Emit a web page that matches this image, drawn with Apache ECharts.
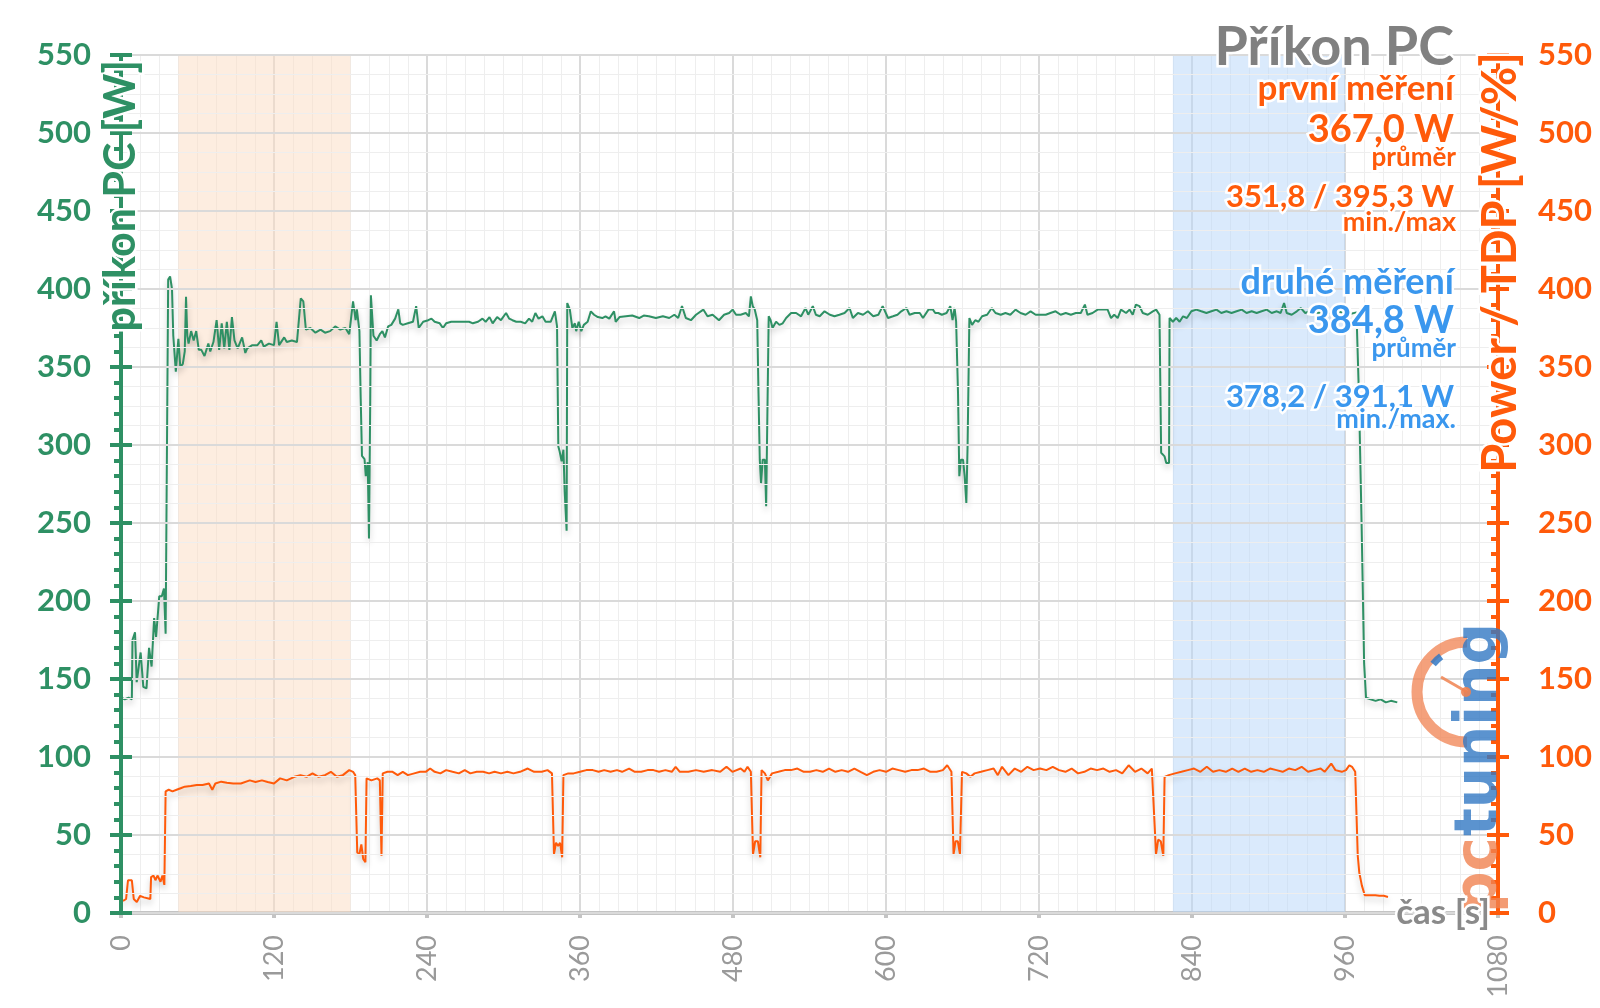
<!DOCTYPE html>
<html><head><meta charset="utf-8">
<script src="https://cdn.jsdelivr.net/npm/echarts@6/dist/echarts.min.js"></script>
<style>html,body{margin:0;padding:0;background:#fff}#c{width:1600px;height:1008px}</style>
</head><body><div id="c"></div>
<script>
// ---- data: [time s, value] ----
const pcPower = [[0,138],[3,137],[6,138],[8.5,137],[9,175],[11,180],[12.3,148],[15.4,167],[17.5,145],[20,144],[22,170],[24,158],[26,189],[27.5,177],[30,203],[32,203],[33.7,208],[35,179],[36,180],[37,406],[38.5,408],[40,400],[41,370],[43,347],[45,368],[46.5,350],[48.5,352],[50,360],[51,395],[52,370],[53,365],[55,373],[57,367],[59,373],[61,361],[63,361],[65.5,357],[68.5,365],[70,360],[72.5,366],[75,380],[77,361],[79,378],[81,362],[83,379],[85,361],[87,382],[89,367],[91.5,362],[95,369],[97.5,359],[99,362],[103,364],[107,364],[110,367],[112,363],[116,365],[120,364],[122,379],[124,364],[128,369],[130,366],[134,367],[138,366],[141,394],[143,392],[145,374],[148.5,375],[152.5,372],[156.5,374],[160,372],[164,373],[168,376],[172,374],[176,375],[179,371],[182,392],[184,380],[185,387],[187,373],[188,330],[189,293],[191,291],[192,280],[193.5,289],[194.5,240],[195.5,330],[196,396],[198,370],[200.5,367],[203,371],[205,373],[207,369],[209.5,376],[212,377],[215,381],[217.5,387],[219,378],[221,377],[225,378],[229,379],[231.5,389],[233.5,375],[237,379],[241,380],[243.5,381],[246,379],[250,378],[252.5,375],[255,378],[259,379],[263,379],[268,379],[273,379],[276,378],[280,379],[283.5,381],[286,379],[289,382],[291.5,378],[295,382],[298,380],[302,384.6],[304.5,381],[307,380],[310,379],[313.5,379],[317,378],[320,381],[322.5,379],[325,384.6],[327.5,381],[330.5,382.5],[333,379],[337,379],[340.3,385.7],[342,376],[343,299],[344,296],[345.6,289.5],[347,297],[348,270],[349.5,245],[350,391],[352,387],[354,375],[356,378],[357,373],[359,379],[361,373],[363,377],[366,379],[368.5,385.7],[371,383.5],[374,382],[377.5,381.4],[380,382.5],[383,381],[386.7,385.7],[388,379],[391,382],[396,382.5],[401,383],[406.4,381.4],[410,383],[414,382.5],[419.5,381.4],[425,382.5],[430,381.4],[434,383.5],[437,381.4],[440,389],[443,381.4],[447,380],[451,383.5],[456.7,386.8],[460,382.5],[464,383.5],[469,380],[473,383.5],[477,384.6],[479.7,386.8],[482.4,383.5],[486,383.5],[490,384.6],[492.5,382.5],[494,395.3],[495.5,389],[497,387],[499,380],[500,333],[501,290.6],[502,275.6],[503.3,290.6],[505,290.6],[506,260.7],[507.2,259.6],[508,382.5],[509.5,380],[511,375],[513.8,379],[516.4,377],[519,378],[521.7,381.4],[525.6,384.6],[529.5,384.6],[533.4,382.5],[536.9,387.8],[539,383.5],[542.6,389],[545,383.5],[548,382.5],[551.8,385.7],[556,383.5],[559.6,382.5],[563.5,383.5],[567.5,384.6],[571.4,387.8],[574,381.4],[578,384.6],[582,383.5],[585.8,385.7],[590,382.5],[594,383.5],[597.4,389],[601.6,381.4],[605.5,382.5],[609,383.5],[612,385.7],[616,387.8],[618.5,383.5],[622.5,384.6],[626.5,384.6],[629,381.4],[633.3,386.8],[636.8,386.8],[638.6,384.6],[641,384.6],[643.8,383.5],[647.5,384.6],[650.4,389],[652.2,380],[653.8,387.8],[655,379],[656.5,333],[657.5,280],[658.8,290.6],[660.4,290.6],[661.7,280],[663,262.8],[664,300],[665.4,381.4],[667.5,377],[670,380],[672.5,379],[675.4,382.5],[679.3,383.5],[683,387.8],[685.9,384.6],[690,383.5],[693.7,384.6],[697.5,383.5],[701.6,386.8],[705.5,384.6],[709.5,383.5],[713.4,385.7],[717.4,383.5],[721.5,383.5],[725.3,383.5],[729,384.6],[733,385.7],[737,383.5],[741,384.6],[745,383.5],[748.9,384.6],[752.8,384.6],[756,390],[758,383.5],[762,384.6],[766,386.8],[770,386.8],[773.8,386.8],[776.5,381.4],[779,383.5],[781.7,381.4],[784.3,386.8],[788.3,384.6],[791,386.8],[793.5,383.5],[796,390],[798.8,389],[801.4,384.6],[805.3,383.5],[809.3,385.7],[811.9,386.8],[814.5,383.5],[815.8,295],[818.5,292.7],[819.8,288.4],[822,288.4],[822.4,381.4],[825,379],[827.6,381.4],[830.3,379],[833,382.5],[836,381.4],[839.5,385.7],[843.4,386.8],[847.3,385.7],[851.3,384.6],[855.2,385.7],[859.2,386.8],[863,384.6],[867,385.7],[871,384.6],[875,385.7],[879,386.8],[882.8,384.6],[886.8,385.7],[890.7,384.6],[894.6,385.7],[898.6,386.8],[902.5,384.6],[906.5,385.7],[909.5,384.6],[912.2,391],[914.3,384.6],[918.2,383.5],[922.2,385.7],[925.4,387.8],[928.8,384.6],[931.5,385.7],[934,384.6],[940,385],[946,384],[952,386],[958,385],[964,384],[969,385],[971,330],[973,250],[975,160],[976.5,138],[980,137],[984,136],[988,137],[992,135],[996,136],[1001,135]];

const tdpPower = [[0,8],[2.2,8],[4,9],[5.5,21],[7,22],[8.5,21],[10,9],[12.4,7],[15,11],[18,10],[23,9],[23.6,23],[25.5,24],[27,21],[28.6,24],[31,20],[32.5,24],[34,18],[35,78],[37.4,79],[40.4,78],[43.6,79],[46.8,80],[50,81],[54.7,81.4],[59.5,82],[64,82],[69,83],[71.6,79],[74,83],[78.6,84.2],[83,83.5],[88,83],[94,83],[101,85],[105.5,84],[110.5,85],[115,84],[120,83],[124.8,86.3],[130,85],[136,87.3],[140.7,88.4],[145.5,87.3],[150.2,89.5],[155,87.3],[160,88.4],[164.6,90.5],[169.3,87.3],[174,88.4],[179,91.6],[182,90.5],[183.7,88.4],[185.3,38.8],[187,37.8],[188.5,44],[190,34.6],[191.7,32.5],[192.6,86.3],[196.4,85],[201,86.3],[203,85],[204.3,36.7],[205.3,89.5],[209,90.5],[213,90.5],[217,88.4],[221,90.5],[225,88.4],[230,89.5],[234.6,90.5],[239,90.5],[242.5,92.6],[246,90.5],[250.5,89.5],[255,91.6],[260,90.5],[265,89.5],[269.6,91.6],[274,89.5],[279,90.5],[284,90.5],[288.7,89.5],[293,90.5],[298,89.5],[303,90.5],[307.8,89.5],[313,90.5],[319,92.6],[324,90.5],[330,90.5],[334.5,91.6],[338,89.5],[339.6,37.8],[341.2,45],[342.8,43],[344.4,45],[346,35.7],[347,88.4],[350.8,89.5],[355,89.5],[360,90.5],[365,91.6],[370,91.6],[374.6,90.5],[379,91.6],[384,90.5],[389,91.6],[393,90.5],[398.5,92.6],[403,90.5],[408,90.5],[413,91.6],[417.6,91.6],[422,90.5],[427,91.6],[432,90.5],[435,93.7],[438.3,90.5],[445,90.5],[451,91.6],[457,90.5],[463.7,91.6],[470,90.5],[474.9,93.7],[479.5,90.5],[486,92.6],[489,90.5],[491.4,93.7],[494,90.5],[495.7,37.8],[497.4,46],[499.5,46],[501.4,35.7],[502.4,91.6],[505,89.5],[507.3,85],[510.6,89.5],[515.6,90.5],[520.6,91.6],[525.5,91.6],[530.5,92.6],[535.5,90.5],[540.4,90.5],[545.4,91.6],[550.4,90.5],[555.3,92.6],[560.3,90.5],[565.2,91.6],[570.2,90.5],[575.2,92.6],[580,90.5],[585,88.4],[590,90.5],[595,91.6],[600,90.5],[605,92.6],[610,91.6],[615,90.5],[619.9,91.6],[624.8,91.6],[629.8,92.6],[634.8,90.5],[639.7,90.5],[644.6,91.6],[648,94.7],[651.3,90.5],[653,37.8],[654.6,46],[656.3,46],[658,37.8],[659.6,90.5],[663,89.5],[666.2,87.3],[669.5,89.5],[674.5,90.5],[679.5,91.6],[684.4,92.6],[687.7,88.4],[691,93.7],[696,88.4],[701,92.6],[706,90.5],[710.9,93.7],[715.8,91.6],[720.8,92.6],[725.8,91.6],[730.8,93.7],[735.7,91.6],[740.7,90.5],[745.6,92.6],[750.6,89.5],[755.6,90.5],[760.5,92.6],[765.5,91.6],[770.5,92.6],[775.4,90.5],[780.4,91.6],[785.3,89.5],[790.3,94.7],[795.3,90.5],[800.3,92.6],[805.2,89.5],[808.5,92.6],[811.8,37.8],[813.5,47],[815.5,46],[817.5,36.7],[818.5,87.3],[821.8,88.4],[826.7,89.5],[831.7,90.5],[836.7,91.6],[841.6,92.6],[846.6,90.5],[851.6,93.7],[856.5,90.5],[861.5,91.6],[866.5,90.5],[871.5,92.6],[876.4,90.5],[881.4,92.6],[886.4,90.5],[891.3,91.6],[896.3,90.5],[901.2,92.6],[906.2,91.6],[911.1,90.5],[916,92.6],[921,91.6],[926,93.7],[931,90.5],[936,91.6],[940.9,92.6],[944,90.5],[949.2,95.8],[952.5,91.6],[957.5,90.5],[960.8,91.6],[963.4,94.7],[965.5,93.7],[968,90.5],[970,36.7],[971.2,26],[973.2,17.7],[975.5,11.4],[980,11.4],[983.8,11.4],[987,11],[990.4,11],[993.7,10.3]];

const firstWindow = [45, 180];
const secondWindow = [825, 960];
const chartTitle = 'Příkon PC';
const firstStats = ['první měření', '367,0 W', 'průměr', '351,8 / 395,3 W', 'min./max'];
const secondStats = ['druhé měření', '384,8 W', 'průměr', '378,2 / 391,1 W', 'min./max.'];
const leftAxisName = 'příkon PC [W]';
const rightAxisName = 'Power / TDP [W/%]';
const xAxisName = 'čas [s]';

// ---- style ----
const GREEN = '#2e9064', ORANGE = '#ff5a0a', BLUE = '#3a97ee', GRAY = '#808080';
const FONT = 'Lato';

function txt(x, y, text, size, color, extra) {
  return Object.assign({
    type: 'text', x: x, y: y, z: 100,
    style: { text: text, fill: color, font: 'bold ' + size + 'px ' + FONT,
      align: 'right', verticalAlign: 'middle', stroke: '#fff', lineWidth: 5 }
  }, extra || {});
}

const chart = echarts.init(document.getElementById('c'));
const yBase = { type: 'value', min: 0, max: 550, interval: 50 };
const tickStyle = c => ({ color: c, width: 4 });
const plain = v => String(v);

chart.setOption({
  animation: false,
  backgroundColor: '#fff',
  grid: { left: 121, right: 102, top: 55, bottom: 95, containLabel: false, outerBoundsMode: 'none' },
  xAxis: {
    type: 'value', min: 0, max: 1080, interval: 120, position: 'bottom',
    axisLine: { onZero: false, lineStyle: { color: '#c4c4c4', width: 4 } },
    axisTick: { show: true, length: 5, lineStyle: { color: '#c4c4c4', width: 4 } },
    axisLabel: { rotate: 90, color: '#9a9a9a', fontFamily: FONT, fontSize: 27, margin: 22, showMinLabel: true, showMaxLabel: true, formatter: plain },
    splitLine: { show: true, lineStyle: { color: '#dadada', width: 2 } },
    minorTick: { show: false, splitNumber: 8 },
    minorSplitLine: { show: true, lineStyle: { color: '#eeeeee', width: 1 } }
  },
  yAxis: [
    Object.assign({}, yBase, { position: 'left', z: 5,
      axisLine: { show: true, onZero: false, lineStyle: tickStyle(GREEN) },
      axisTick: { show: true, length: 11, lineStyle: tickStyle(GREEN) },
      minorTick: { show: true, splitNumber: 5, length: 7, lineStyle: tickStyle(GREEN) },
      axisLabel: { color: GREEN, fontFamily: FONT, fontWeight: 'bold', fontSize: 31, margin: 30, formatter: plain },
      splitLine: { show: false } }),
    Object.assign({}, yBase, { position: 'right', z: 5,
      axisLine: { show: true, onZero: false, lineStyle: tickStyle(ORANGE) },
      axisTick: { show: true, length: 11, lineStyle: tickStyle(ORANGE) },
      axisLabel: { color: ORANGE, fontFamily: FONT, fontWeight: 'bold', fontSize: 31, margin: 40, formatter: plain },
      splitLine: { show: false } }),
    Object.assign({}, yBase, { position: 'left', z: 5,
      axisLine: { show: false, onZero: false },
      axisTick: { show: true, inside: true, length: 11, lineStyle: tickStyle(GREEN) },
      axisLabel: { show: false },
      splitLine: { show: true, lineStyle: { color: '#dadada', width: 2 } },
      minorTick: { show: false, splitNumber: 4 },
      minorSplitLine: { show: true, lineStyle: { color: '#eeeeee', width: 1 } } }),
    Object.assign({}, yBase, { position: 'right', z: 5,
      axisLine: { show: false, onZero: false },
      axisTick: { show: true, inside: true, length: 11, lineStyle: tickStyle(ORANGE) },
      minorTick: { show: true, splitNumber: 5, length: 7, lineStyle: tickStyle(ORANGE) },
      axisLabel: { show: false },
      splitLine: { show: false } })
  ],
  series: [
    { type: 'line', data: pcPower, yAxisIndex: 0, symbol: 'none', z: 3,
      lineStyle: { color: GREEN, width: 2, shadowColor: 'rgba(0,0,0,0.22)', shadowBlur: 6, shadowOffsetY: 4 },
      itemStyle: { color: GREEN },
      markArea: { silent: true, data: [
        [{ xAxis: firstWindow[0], itemStyle: { color: 'rgba(251,219,193,0.5)' } }, { xAxis: firstWindow[1] }],
        [{ xAxis: secondWindow[0], itemStyle: { color: 'rgba(182,213,249,0.5)' } }, { xAxis: secondWindow[1] }]
      ] } },
    { type: 'line', data: tdpPower, yAxisIndex: 1, symbol: 'none', z: 3,
      lineStyle: { color: ORANGE, width: 2, shadowColor: 'rgba(0,0,0,0.22)', shadowBlur: 6, shadowOffsetY: 4 },
      itemStyle: { color: ORANGE } }
  ],
  graphic: [
    // logo
    { type: 'arc', z: 50, shape: { cx: 1467, cy: 692, r: 50, startAngle: Math.PI / 2, endAngle: Math.PI * 1.5, clockwise: true },
      style: { stroke: 'rgba(240,130,80,0.75)', lineWidth: 11, fill: null } },
    { type: 'arc', z: 51, shape: { cx: 1467, cy: 692, r: 44, startAngle: Math.PI * 1.22, endAngle: Math.PI * 1.3, clockwise: true },
      style: { stroke: 'rgba(50,120,195,0.85)', lineWidth: 7, fill: null } },
    { type: 'line', z: 51, shape: { x1: 1467, y1: 692, x2: 1441, y2: 677 }, style: { stroke: 'rgba(240,130,80,0.85)', lineWidth: 3 } },
    { type: 'circle', z: 51, shape: { cx: 1466, cy: 692, r: 5 }, style: { fill: 'rgba(240,130,80,0.9)' } },
    { type: 'text', z: 50, x: 1510, y: 913, rotation: Math.PI / 2,
      style: { text: 'pc', fill: 'rgba(240,130,80,0.8)', font: 'bold 58px "DejaVu Sans"', align: 'left', verticalAlign: 'bottom' } },
    { type: 'text', z: 50, x: 1510, y: 836, rotation: Math.PI / 2,
      style: { text: 'tuning', fill: 'rgba(50,120,195,0.8)', font: 'bold 58px "DejaVu Sans"', align: 'left', verticalAlign: 'bottom' } },
    // axis names
    txt(121, 60, leftAxisName, 43, GREEN, { rotation: Math.PI / 2 }),
    txt(1501, 52, rightAxisName, 47, ORANGE, { rotation: Math.PI / 2 }),
    txt(1490, 913, xAxisName, 35, '#8a8a8a', { style: { text: xAxisName, fill: '#8a8a8a', font: 'bold 35px ' + FONT, align: 'right', verticalAlign: 'middle', stroke: '#fff', lineWidth: 5 } }),
    // title and stats
    txt(1454, 48, chartTitle, 54, GRAY),
    txt(1454, 89, firstStats[0], 35, ORANGE),
    txt(1454, 130, firstStats[1], 38, ORANGE),
    txt(1456, 158, firstStats[2], 26, ORANGE),
    txt(1454, 197, firstStats[3], 31, ORANGE),
    txt(1456, 222, firstStats[4], 27, ORANGE),
    txt(1454, 282, secondStats[0], 36, BLUE),
    txt(1454, 321, secondStats[1], 38, BLUE),
    txt(1456, 349, secondStats[2], 26, BLUE),
    txt(1454, 397, secondStats[3], 31, BLUE),
    txt(1456, 419, secondStats[4], 27, BLUE)
  ]
});
</script>
</body></html>
